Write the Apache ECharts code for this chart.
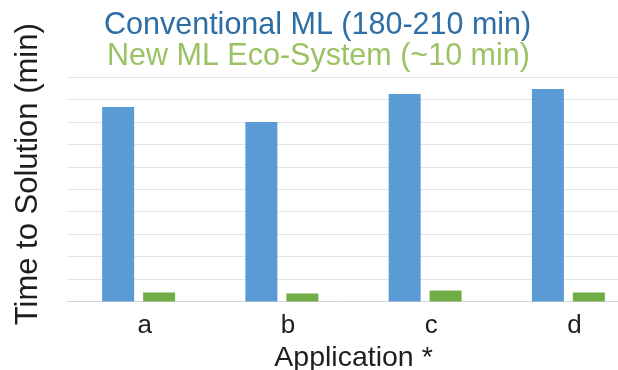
<!DOCTYPE html>
<html>
<head>
<meta charset="utf-8">
<script src="https://cdn.jsdelivr.net/npm/echarts@6/dist/echarts.min.js"></script>
<style>
  html, body { margin: 0; padding: 0; background: #fff; }
  #chart { width: 618px; height: 370px; }
</style>
</head>
<body>
<div id="chart"></div>
<script>
// Time-to-solution per application, two approaches
const applications = ['a', 'b', 'c', 'd'];
const conventionalName = 'Conventional ML (180-210 min)';
const ecoSystemName = 'New ML Eco-System (~10 min)';
const conventionalMinutes = [195, 180, 208, 213];
const ecoSystemMinutes = [9, 8, 11, 9];

const FONT = '"Liberation Sans", Arial, sans-serif';
const TEXT = '#1e1e1e';

const chart = echarts.init(document.getElementById('chart'), null, { renderer: 'canvas' });

chart.setOption({
  animation: false,
  backgroundColor: '#ffffff',
  textStyle: { fontFamily: FONT },
  legend: [
    {
      data: [{ name: conventionalName, textStyle: { color: '#2e6ea6' } }],
      icon: 'none', itemWidth: 0, itemHeight: 30, padding: 0,
      left: 99, top: 10, selectedMode: false,
      textStyle: { fontSize: 30.5, fontFamily: FONT }
    },
    {
      data: [{ name: ecoSystemName, textStyle: { color: '#9bc365' } }],
      icon: 'none', itemWidth: 0, itemHeight: 30, padding: 0,
      left: 102, top: 41, selectedMode: false,
      textStyle: { fontSize: 30.5, fontFamily: FONT }
    }
  ],
  // plot area runs past the right edge of the canvas
  grid: {
    left: 67, width: 573, top: 77, bottom: 68.5,
    containLabel: false, outerBoundsMode: 'none'
  },
  xAxis: {
    type: 'category',
    data: applications,
    name: 'Application *',
    nameLocation: 'middle',
    nameGap: 37,
    nameTextStyle: { fontSize: 28.5, color: TEXT, fontFamily: FONT },
    axisLine: { lineStyle: { color: '#d4d4d4', width: 1 } },
    axisTick: { show: false },
    axisLabel: { fontSize: 26, color: TEXT, margin: 11, padding: [0, 0, 0, 12], fontFamily: FONT }
  },
  yAxis: {
    type: 'value',
    min: 0,
    max: 225,
    interval: 22.5,
    name: 'Time to Solution (min)',
    nameLocation: 'middle',
    nameRotate: 90,
    nameGap: 23,
    nameTextStyle: { fontSize: 31, color: TEXT, fontFamily: FONT, padding: [0, 0, 0, 30] },
    axisLine: { show: false },
    axisTick: { show: false },
    axisLabel: { show: false },
    splitLine: { lineStyle: { color: '#e3e3e3', width: 1 } }
  },
  series: [
    {
      name: conventionalName,
      type: 'bar',
      data: conventionalMinutes,
      barWidth: 32,
      barGap: '28%',
      itemStyle: { color: '#5b9bd5' }
    },
    {
      name: ecoSystemName,
      type: 'bar',
      data: ecoSystemMinutes,
      barWidth: 32,
      itemStyle: { color: '#70ad47' }
    }
  ]
});
</script>
</body>
</html>
